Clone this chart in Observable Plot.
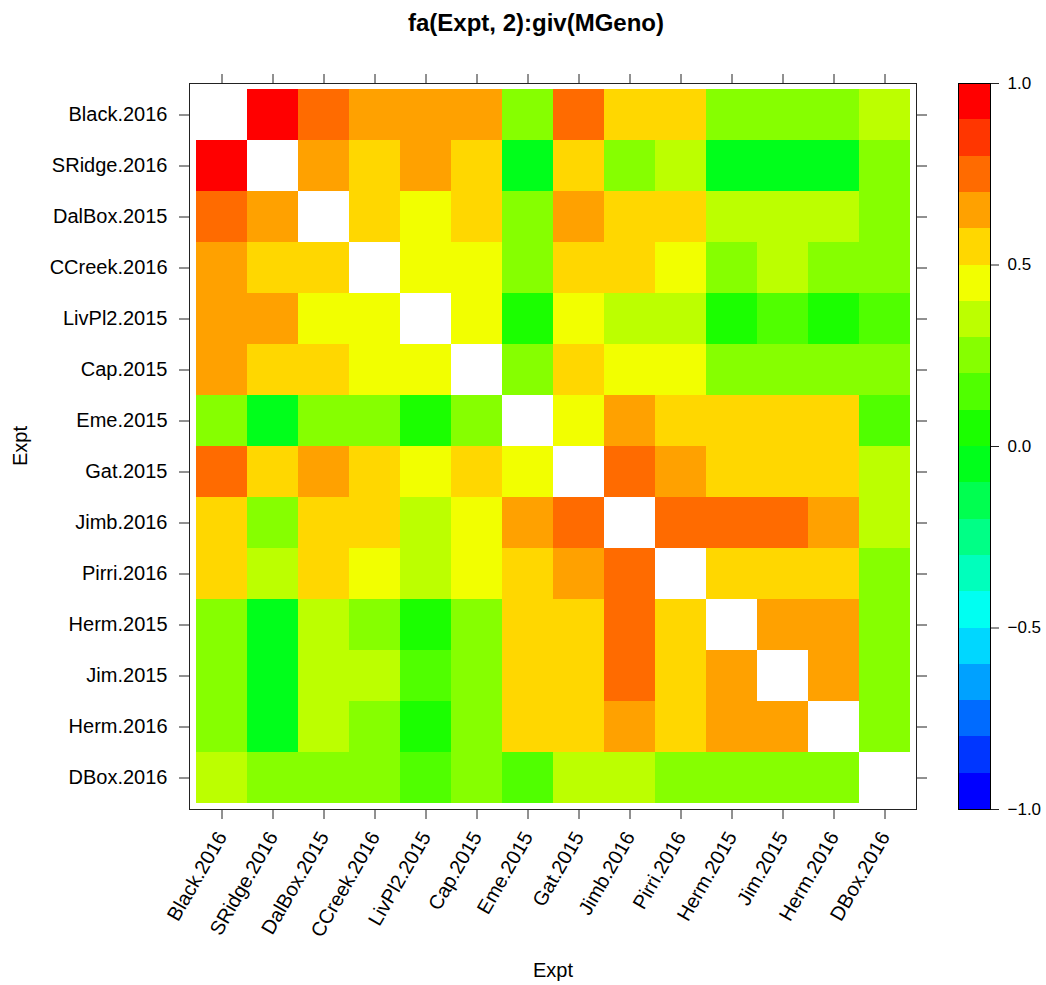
<!DOCTYPE html>
<html>
<head>
<meta charset="utf-8">
<script src="https://cdn.jsdelivr.net/npm/d3@7"></script>
<script src="https://cdn.jsdelivr.net/npm/@observablehq/plot@0.6"></script>
<style>
  body { margin: 0; background: #fff; }
  #page { position: relative; width: 1046px; height: 985px; font-family: "Liberation Sans", Arial, Helvetica, sans-serif; color: #000; }
  .abs { position: absolute; }
  #title { left: 0; width: 1072px; top: 8px; text-align: center; font-weight: bold; font-size: 24px; line-height: 30px; }
  #xlab { left: 453px; width: 200px; top: 960px; text-align: center; font-size: 20px; line-height: 20px; }
  #ylab { left: -80px; width: 200px; top: 434px; height: 24px; text-align: center; font-size: 20px; line-height: 24px; transform: rotate(-90deg); }
  #main { left: 0; top: 0; }
  #key { left: 940px; top: 0; }
</style>
</head>
<body>
<div id="page">
  <div id="main" class="abs"></div>
  <div id="key" class="abs"></div>
  <div id="title" class="abs">fa(Expt, 2):giv(MGeno)</div>
  <div id="xlab" class="abs">Expt</div>
  <div id="ylab" class="abs">Expt</div>
</div>
<script>
// Environments, in display order (top-to-bottom rows, left-to-right columns)
const expts = [
  "Black.2016", "SRidge.2016", "DalBox.2015", "CCreek.2016", "LivPl2.2015",
  "Cap.2015", "Eme.2015", "Gat.2015", "Jimb.2016", "Pirri.2016",
  "Herm.2015", "Jim.2015", "Herm.2016", "DBox.2016"
];

// Genetic correlation matrix between environments (diagonal left blank)
const corr = [
  [null, 0.94, 0.76, 0.66, 0.64, 0.65, 0.27, 0.74, 0.56, 0.54, 0.24, 0.26, 0.25, 0.36],
  [0.94, null, 0.63, 0.57, 0.62, 0.53, -0.04, 0.55, 0.28, 0.33, -0.03, -0.06, -0.05, 0.23],
  [0.76, 0.63, null, 0.52, 0.47, 0.56, 0.26, 0.67, 0.58, 0.51, 0.37, 0.34, 0.32, 0.22],
  [0.66, 0.57, 0.52, null, 0.44, 0.46, 0.23, 0.54, 0.53, 0.42, 0.27, 0.31, 0.24, 0.26],
  [0.64, 0.62, 0.47, 0.44, null, 0.43, 0.06, 0.48, 0.36, 0.33, 0.04, 0.14, 0.07, 0.16],
  [0.65, 0.53, 0.56, 0.46, 0.43, null, 0.25, 0.57, 0.45, 0.41, 0.22, 0.28, 0.21, 0.27],
  [0.27, -0.04, 0.26, 0.23, 0.06, 0.25, null, 0.46, 0.68, 0.55, 0.52, 0.57, 0.54, 0.13],
  [0.74, 0.55, 0.67, 0.54, 0.48, 0.57, 0.46, null, 0.77, 0.63, 0.58, 0.53, 0.56, 0.34],
  [0.56, 0.28, 0.58, 0.53, 0.36, 0.45, 0.68, 0.77, null, 0.75, 0.73, 0.78, 0.69, 0.38],
  [0.54, 0.33, 0.51, 0.42, 0.33, 0.41, 0.55, 0.63, 0.75, null, 0.59, 0.52, 0.57, 0.29],
  [0.24, -0.03, 0.37, 0.27, 0.04, 0.22, 0.52, 0.58, 0.73, 0.59, null, 0.64, 0.66, 0.24],
  [0.26, -0.06, 0.34, 0.31, 0.14, 0.28, 0.57, 0.53, 0.78, 0.52, 0.64, null, 0.61, 0.21],
  [0.25, -0.05, 0.32, 0.24, 0.07, 0.21, 0.54, 0.56, 0.69, 0.57, 0.66, 0.61, null, 0.26],
  [0.36, 0.23, 0.22, 0.26, 0.16, 0.27, 0.13, 0.34, 0.38, 0.29, 0.24, 0.21, 0.26, null]
];

// Colour key: 20 equal bins from -1 to 1
const thresholds = [-0.9, -0.8, -0.7, -0.6, -0.5, -0.4, -0.3, -0.2, -0.1, 0,
                    0.1, 0.2, 0.3, 0.4, 0.5, 0.6, 0.7, 0.8, 0.9];
const keyLimits = [-1, 1];
const keyTicks = [-1, -0.5, 0, 0.5, 1];
const palette = [
  "#0000FF", "#0036FF", "#006BFF", "#00A1FF", "#00D7FF",
  "#00FFF2", "#00FFBC", "#00FF86", "#00FF50", "#00FF1B",
  "#1BFF00", "#50FF00", "#86FF00", "#BCFF00", "#F2FF00",
  "#FFD700", "#FFA100", "#FF6B00", "#FF3600", "#FF0000"
];

const font = '"Liberation Sans", Arial, Helvetica, sans-serif';
const colorScale = { type: "threshold", domain: thresholds, range: palette };

// Long-form table of the off-diagonal cells
const cells = [];
expts.forEach((row, i) => expts.forEach((col, j) => {
  if (corr[i][j] != null) cells.push({ row, col, value: corr[i][j] });
}));

const blank = () => "";

const main = Plot.plot({
  width: 940,
  height: 985,
  marginLeft: 189,
  marginRight: 24,
  marginTop: 83,
  marginBottom: 176,
  style: { fontFamily: font, fontSize: "20px", color: "#000", background: "transparent", overflow: "visible" },
  x: { domain: expts, paddingInner: 0, paddingOuter: 0.09, label: null },
  y: { domain: expts, paddingInner: 0, paddingOuter: 0.09, label: null },
  color: colorScale,
  marks: [
    Plot.cell(cells, { x: "col", y: "row", fill: "value", inset: 0, shapeRendering: "crispEdges" }),
    Plot.frame({ stroke: "#222", strokeWidth: 1 }),
    Plot.axisX({ anchor: "bottom", tickSize: 10, tickPadding: 14, tickRotate: -60,
                 textAnchor: "end", lineAnchor: "middle", label: null, stroke: "#222" }),
    Plot.axisX({ anchor: "top", tickSize: 10, tickFormat: blank, label: null, stroke: "#222" }),
    Plot.axisY({ anchor: "left", tickSize: 10, tickPadding: 12, label: null, stroke: "#222" }),
    Plot.axisY({ anchor: "right", tickSize: 10, tickFormat: blank, label: null, stroke: "#222" })
  ]
});
document.getElementById("main").appendChild(main);

// Colour key bins, coloured through the same threshold scale
const breaks = [keyLimits[0], ...thresholds, keyLimits[1]];
const keyBins = breaks.slice(0, -1).map((lo, i) => ({ lo, hi: breaks[i + 1], mid: (lo + breaks[i + 1]) / 2 }));

const key = Plot.plot({
  width: 106,
  height: 985,
  marginLeft: 18,
  marginRight: 56,
  marginTop: 83,
  marginBottom: 176,
  style: { fontFamily: font, fontSize: "17px", color: "#000", background: "transparent", overflow: "visible" },
  x: { domain: [0, 1], axis: null },
  y: { domain: keyLimits, label: null },
  color: colorScale,
  marks: [
    Plot.rect(keyBins, { x1: 0, x2: 1, y1: "lo", y2: "hi", fill: "mid", inset: 0, shapeRendering: "crispEdges" }),
    Plot.frame({ stroke: "#000", strokeWidth: 1 }),
    Plot.axisY({ anchor: "right", ticks: keyTicks, tickSize: 8, tickPadding: 9,
                 tickFormat: d3.format(".1f"), label: null, stroke: "#222" })
  ]
});
document.getElementById("key").appendChild(key);
</script>
</body>
</html>
